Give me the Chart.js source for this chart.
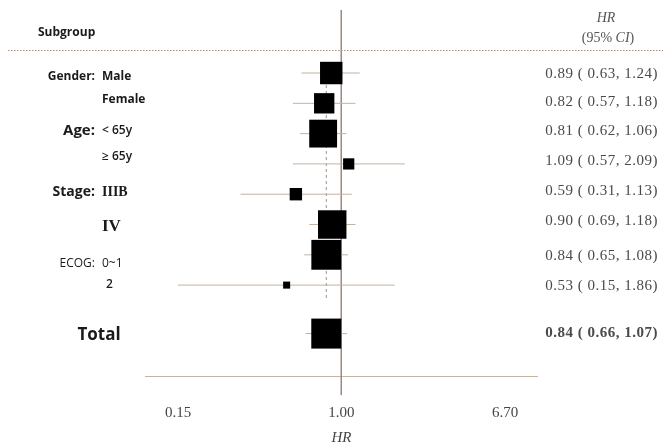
<!DOCTYPE html>
<html><head><meta charset="utf-8">
<script src="https://cdn.jsdelivr.net/npm/chart.js@4"></script>
<style>html,body{margin:0;padding:0;background:#fff}canvas{display:block}</style>
</head><body>
<canvas id="c" width="663" height="447"></canvas>
<script>
// ---- data ----
const groups    = ["Gender:", "", "Age:", "", "Stage:", "", "ECOG:", "", ""];
const subgroups = ["Male", "Female", "< 65y", "\u2265 65y", "IIIB", "IV", "0~1", "2", "Total"];
const hr        = [0.89, 0.82, 0.81, 1.09, 0.59, 0.90, 0.84, 0.53, 0.84];
const ciLow     = [0.63, 0.57, 0.62, 0.57, 0.31, 0.69, 0.65, 0.15, 0.66];
const ciHigh    = [1.24, 1.18, 1.06, 2.09, 1.13, 1.18, 1.08, 1.86, 1.07];
const weights   = [56, 46, 86, 14, 17, 90, 99, 5.5, 100];
const xTicks    = [0.15, 1.00, 6.70];
const overallHR = 0.84;

// ---- layout helpers ----
const rowY = subgroups.map((_, i) => i < 8 ? i : 8.6);
const Y_MIN = -2.08, Y_MAX = 10;
const leftShift  = [4, -4, -3, -7, -2, 2, 9, -1, 2];
const rightShift = [1, -1, -3, -3, -3, -3, 1, 1, 0];

const ciData = [];
hr.forEach((_, i) => {
  ciData.push({x: ciLow[i], y: rowY[i]}, {x: ciHigh[i], y: rowY[i]}, {x: null, y: null});
});

const groupFonts = ['bold 12px "Open Sans"', '', 'bold 15px "Open Sans"', '', 'bold 14px "Open Sans"', '', '12px "Open Sans"', '', ''];
const subFonts = ['bold 12px "Open Sans"', 'bold 12px "Open Sans"', '600 12px "Open Sans"', '600 12px "Open Sans"',
                  'bold 14px "Liberation Serif"', 'bold 17px "Liberation Serif"', '12px "Open Sans"', '600 12px "Open Sans"', 'bold 17px "Open Sans"'];

const decor = {
  id: 'decor',
  beforeDatasetsDraw(chart) {
    const {ctx, chartArea, scales: {x}} = chart;
    ctx.save();
    ctx.lineWidth = 1;
    ctx.strokeStyle = '#a89080';
    ctx.setLineDash([1.5, 1.5]);
    ctx.beginPath(); ctx.moveTo(8, chartArea.top + 40.5); ctx.lineTo(663, chartArea.top + 40.5); ctx.stroke();
    ctx.setLineDash([]);
    ctx.strokeStyle = '#c4b4a4';
    ctx.beginPath(); ctx.moveTo(x.left - 33, chartArea.bottom + 0.5); ctx.lineTo(x.right + 33, chartArea.bottom + 0.5); ctx.stroke();
    ctx.restore();
  },
  afterDraw(chart) {
    const {ctx, chartArea, scales: {y}} = chart;
    ctx.save();
    ctx.textBaseline = 'middle';
    // header
    ctx.fillStyle = '#1a1a1a';
    ctx.font = 'bold 12px "Open Sans"';
    ctx.textAlign = 'left';
    ctx.fillText('Subgroup', 38, chartArea.top + 23);
    ctx.fillStyle = '#555';
    ctx.textAlign = 'center';
    ctx.font = 'italic 14px "Liberation Serif"';
    ctx.fillText('HR', 606, chartArea.top + 8);
    const p1 = '(95% ', p2 = 'CI', p3 = ')';
    ctx.font = '14px "Liberation Serif"'; const w1 = ctx.measureText(p1).width, w3 = ctx.measureText(p3).width;
    ctx.font = 'italic 14px "Liberation Serif"'; const w2 = ctx.measureText(p2).width;
    let sx = 608 - (w1 + w2 + w3) / 2;
    ctx.textAlign = 'left';
    ctx.font = '14px "Liberation Serif"'; ctx.fillText(p1, sx, chartArea.top + 28); sx += w1;
    ctx.font = 'italic 14px "Liberation Serif"'; ctx.fillText(p2, sx, chartArea.top + 28); sx += w2;
    ctx.font = '14px "Liberation Serif"'; ctx.fillText(p3, sx, chartArea.top + 28);

    // rows
    subgroups.forEach((s, i) => {
      const py = y.getPixelForValue(rowY[i]);
      const ly = py + leftShift[i];
      ctx.fillStyle = '#1a1a1a';
      ctx.letterSpacing = '0px';
      if (groups[i]) {
        ctx.font = groupFonts[i]; ctx.textAlign = 'right';
        ctx.fillText(groups[i], 95, ly);
      }
      ctx.font = subFonts[i];
      if (i === 8) { ctx.textAlign = 'center'; ctx.fillText(s, 99, ly); }
      else { ctx.textAlign = 'left'; ctx.fillText(s, i === 7 ? 106 : 102, ly); }
      ctx.fillStyle = '#4a4a4a';
      ctx.textAlign = 'right';
      ctx.letterSpacing = '0.5px';
      ctx.font = (i === 8 ? 'bold ' : '') + '15px "Liberation Serif"';
      ctx.fillText(hr[i].toFixed(2) + ' ( ' + ciLow[i].toFixed(2) + ', ' + ciHigh[i].toFixed(2) + ')', 658, py + rightShift[i]);
    });
    ctx.restore();
  }
};

new Chart(document.getElementById('c'), {
  type: 'line',
  data: {
    datasets: [
      { data: [{x: 1, y: Y_MIN}, {x: 1, y: 10.63}], borderColor: '#9c8c7c', borderWidth: 1, pointRadius: 0, clip: false, order: 4 },
      { data: [{x: overallHR, y: 0}, {x: overallHR, y: 7.5}], borderColor: '#a09080', borderWidth: 1, borderDash: [3, 3], pointRadius: 0, order: 3 },
      { data: ciData, borderColor: '#c2b2a2', borderWidth: 1, pointRadius: 0, spanGaps: false, order: 2 },
      { data: hr.map((v, i) => ({x: v, y: rowY[i]})), showLine: false, pointStyle: 'rect',
        pointRadius: weights.map(w => Math.sqrt(w) * 3 / Math.SQRT2), pointBackgroundColor: '#000',
        pointBorderWidth: 0, order: 1 }
    ]
  },
  options: {
    responsive: false,
    animation: false,
    events: [],
    layout: { autoPadding: false, padding: { left: 178, right: 158, top: 10, bottom: 0 } },
    plugins: { legend: { display: false }, tooltip: { enabled: false } },
    scales: {
      x: {
        type: 'logarithmic', min: 0.15, max: 6.7, position: 'bottom',
        grid: { display: false, drawTicks: false }, border: { display: false },
        afterBuildTicks: s => { s.ticks = xTicks.map(v => ({value: v})); },
        afterFit: s => { s.height = 71; },
        ticks: { autoSkip: false, maxRotation: 0, padding: 28, color: '#444',
                 font: { family: '"Liberation Serif"', size: 15 },
                 callback: v => Number(v).toFixed(2) },
        title: { display: true, text: 'HR', color: '#444', padding: { top: 0, bottom: 0 },
                 font: { family: '"Liberation Serif"', size: 15, style: 'italic' } }
      },
      y: { type: 'linear', reverse: true, min: Y_MIN, max: Y_MAX, display: false }
    }
  },
  plugins: [decor]
});
</script>
</body></html>
